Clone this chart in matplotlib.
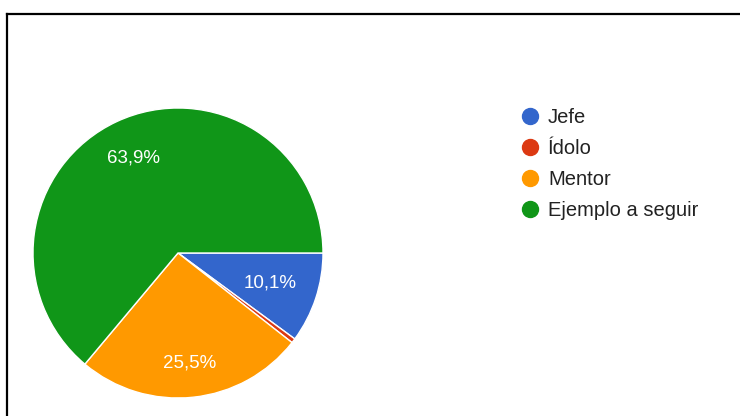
import matplotlib
matplotlib.use("Agg")
import numpy as np
import matplotlib.pyplot as plt
from matplotlib.lines import Line2D

categories = ["Jefe", "Ídolo", "Mentor", "Ejemplo a seguir"]
shares = [10.1, 0.5, 25.5, 63.9]
colors = ["#3366cc", "#dc3912", "#ff9900", "#109618"]
# radial position of each percentage label (fraction of radius)
label_radius = [0.67, 0.7, 0.76, 0.72]

plt.rcParams["font.family"] = ["Liberation Sans", "DejaVu Sans"]

W, H = 740, 416
fig = plt.figure(figsize=(W / 100, H / 100), dpi=100)
fig.patch.set_facecolor("white")

# pie axes: 290 px square centred at (178, 253) px from top-left
cx, cy, r = 178, 253, 145
ax = fig.add_axes([(cx - r) / W, (H - cy - r) / H, 2 * r / W, 2 * r / H])


def fmt(p):
    if p < 1:
        return ""
    return f"{p:.1f}".replace(".", ",") + "%"


wedges, texts, autotexts = ax.pie(
    shares,
    colors=colors,
    startangle=0,
    counterclock=False,
    autopct=fmt,
    pctdistance=0.7,
    wedgeprops=dict(edgecolor="white", linewidth=1),
    textprops=dict(color="white", fontsize=13.5),
)
for w, t, d in zip(wedges, autotexts, label_radius):
    mid = np.deg2rad((w.theta1 + w.theta2) / 2)
    t.set_position((d * np.cos(mid), d * np.sin(mid)))

ax.set_xlim(-1, 1)
ax.set_ylim(-1, 1)
ax.set_aspect("equal")
ax.axis("off")

# legend: round markers with labels, one row every 31 px
for i, (name, c) in enumerate(zip(categories, colors)):
    y_px = 116 + 31 * i
    fig.add_artist(Line2D([530 / W], [1 - y_px / H], transform=fig.transFigure,
                          marker="o", linestyle="none", markersize=11.5,
                          markerfacecolor=c, markeredgecolor=c))
    fig.text(548 / W, 1 - (y_px + 1.5) / H, name, fontsize=14.5,
             color="#222222", ha="left", va="center")

# frame lines along the top and left edge
fig.add_artist(Line2D([7 / W, 1], [1 - 14 / H, 1 - 14 / H],
                      transform=fig.transFigure, color="black", linewidth=1.6))
fig.add_artist(Line2D([7 / W, 7 / W], [0, 1 - 14 / H],
                      transform=fig.transFigure, color="black", linewidth=1.6))

fig.savefig("out.png", dpi=100, facecolor="white")
